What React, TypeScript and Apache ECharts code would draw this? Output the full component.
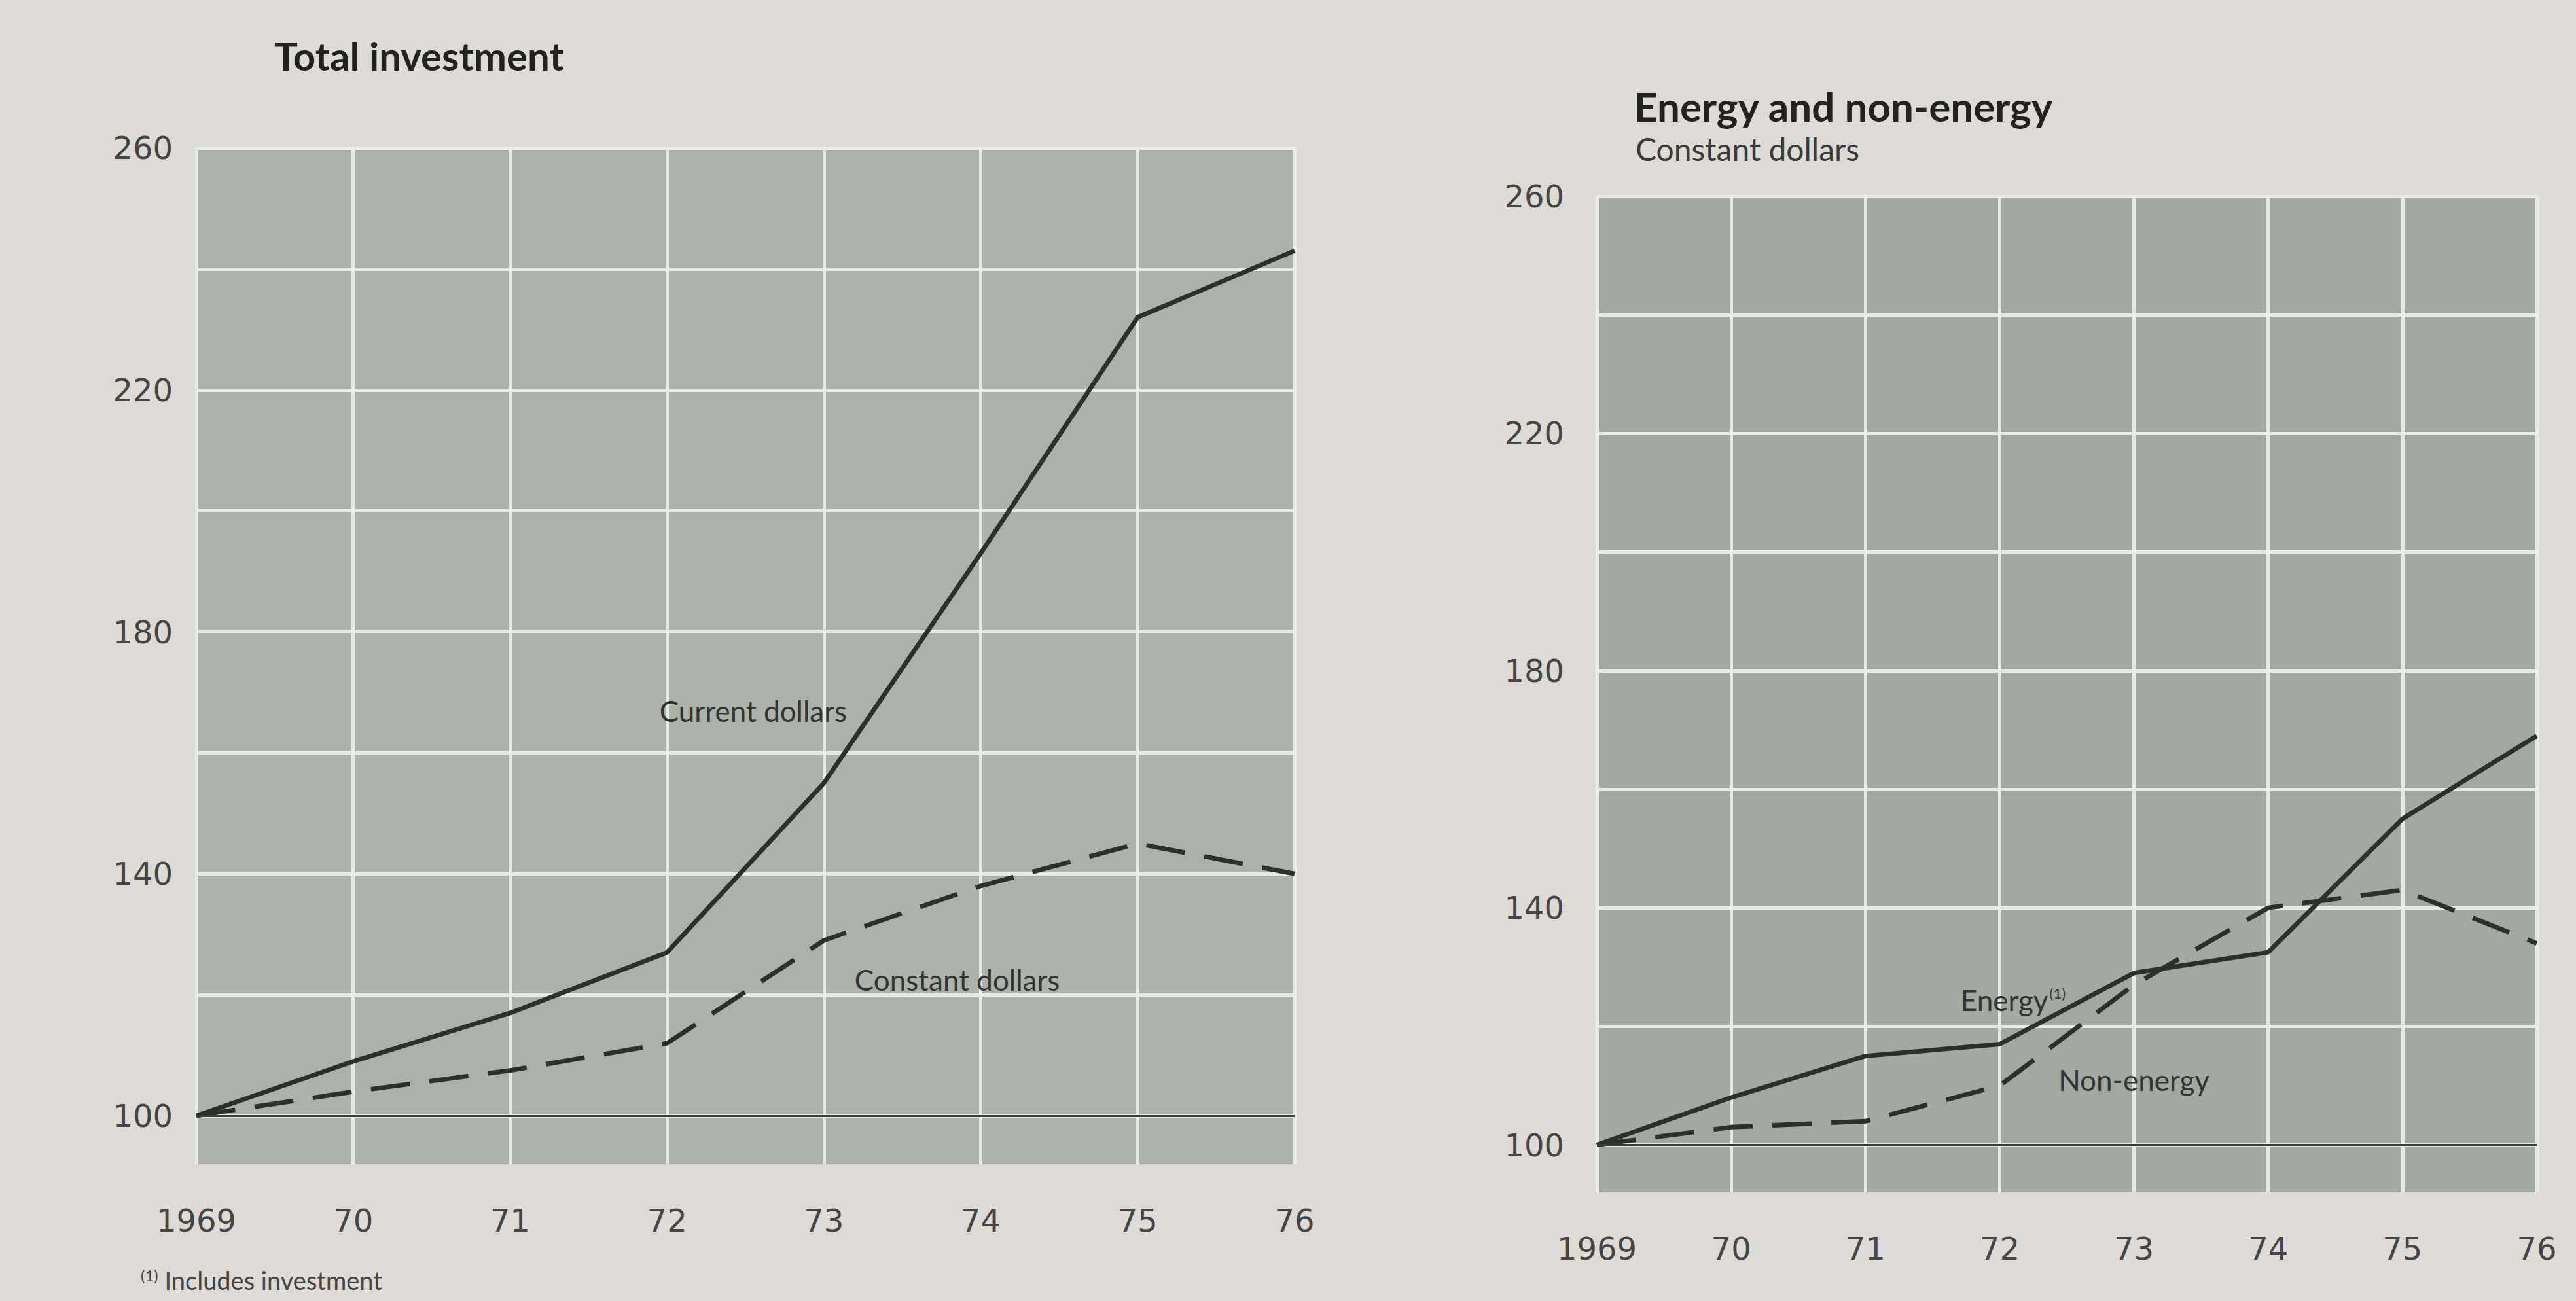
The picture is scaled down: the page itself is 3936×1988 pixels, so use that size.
import React, { useEffect, useRef } from "react";
import * as echarts from "echarts";

// ---- data (index, 1969 = 100) ----
const years = [1969, 1970, 1971, 1972, 1973, 1974, 1975, 1976];
const xTickLabels = ["1969", "70", "71", "72", "73", "74", "75", "76"];
const yTickLabels = [100, 140, 180, 220, 260];

// Total investment
const currentDollars = [100, 109, 117, 127, 155, 193, 232, 243];
const constantDollars = [100, 104, 107.5, 112, 129, 138, 145, 140];

// Energy and non-energy (constant dollars)
const energy = [100, 108, 115, 117, 129, 132.5, 155, 169];
const nonEnergy = [100, 103, 104, 110, 127, 140, 143, 134];

const baseLevel = 100;

// ---- styles ----
const PAPER = "#dedad6";
const INK = "#2c2f2c";
const WHITE = "rgba(236,239,233,0.92)";
const CLEAR = "rgba(0,0,0,0)";
const NUM_FONT = "DejaVu Sans";
const TEXT_FONT = "Lato";

const pairs = (vals: number[]) => years.map((y, i) => [y, vals[i]]);

function yAxisFor(gridIndex: number, margin: number) {
  return {
    type: "value",
    gridIndex,
    min: 92,
    max: 260,
    interval: 4,
    axisLine: { show: false },
    axisTick: { show: false },
    axisLabel: {
      margin,
      color: "#454545",
      fontFamily: NUM_FONT,
      fontSize: 48,
      formatter: (v: number) => (yTickLabels.indexOf(v) >= 0 ? String(v) : ""),
    },
    splitLine: {
      show: true,
      lineStyle: { width: 5, color: [CLEAR, CLEAR, WHITE, CLEAR, CLEAR] },
    },
  };
}

function xAxisFor(gridIndex: number) {
  return {
    type: "value",
    gridIndex,
    min: 1969,
    max: 1976,
    interval: 1,
    axisLine: { show: false },
    axisTick: { show: false },
    axisLabel: {
      margin: 62,
      color: "#454545",
      fontFamily: NUM_FONT,
      fontSize: 48,
      formatter: (v: number) => xTickLabels[years.indexOf(v)] ?? "",
    },
    splitLine: { show: true, lineStyle: { width: 5, color: WHITE } },
  };
}

function inlineLabel(coord: number[], text: string, extra: any = {}) {
  return {
    coord,
    symbol: "circle",
    symbolSize: 0,
    label: {
      show: true,
      position: "inside",
      formatter: text,
      color: "#333",
      fontFamily: TEXT_FONT,
      fontSize: 44,
      ...extra,
    },
  };
}

function baseLine() {
  return {
    silent: true,
    symbol: ["none", "none"],
    label: { show: false },
    lineStyle: { color: "#3a3d3a", width: 3, type: "solid" },
    data: [{ yAxis: baseLevel }],
  };
}

export default function App() {
  const ref = useRef<HTMLDivElement>(null);

  useEffect(() => {
    if (!ref.current) return;
    const chart = echarts.init(ref.current, null, { renderer: "svg" });

    const option: any = {
      animation: false,
      backgroundColor: PAPER,
      title: [
        {
          text: "Total investment",
          left: 414,
          top: 50,
          textStyle: { fontFamily: TEXT_FONT, fontWeight: "bold", fontSize: 60, color: "#222" },
        },
        {
          text: "Energy and non-energy",
          left: 2492,
          top: 126,
          textStyle: { fontFamily: TEXT_FONT, fontWeight: "bold", fontSize: 62, color: "#222" },
        },
        {
          text: "Constant dollars",
          left: 2494,
          top: 198,
          textStyle: { fontFamily: TEXT_FONT, fontWeight: "normal", fontSize: 48, color: "#3a3a3a" },
        },
      ],
      grid: [
        { left: 300, right: 1958, top: 226, bottom: 209, show: true, backgroundColor: "#acb2a9", borderWidth: 0 },
        { left: 2440, right: 60, top: 300, bottom: 166, show: true, backgroundColor: "#a1a9a0", borderWidth: 0 },
      ],
      xAxis: [xAxisFor(0), xAxisFor(1)],
      yAxis: [yAxisFor(0, 36), yAxisFor(1, 50)],
      graphic: [
        {
          type: "text",
          left: 215,
          top: 1936,
          style: {
            text: "{s|(1)} Includes investment",
            rich: {
              s: { fontSize: 24, fontFamily: TEXT_FONT, fill: "#444", padding: [0, 0, 16, 0] },
            },
            fontFamily: TEXT_FONT,
            fontSize: 38,
            fill: "#444",
          },
        },
      ],
      series: [
        {
          name: "Current dollars",
          type: "line",
          xAxisIndex: 0,
          yAxisIndex: 0,
          data: pairs(currentDollars),
          symbol: "none",
          z: 3,
          lineStyle: { color: INK, width: 7 },
          markLine: baseLine(),
          markPoint: { data: [inlineLabel([1972.55, 167], "Current dollars")] },
        },
        {
          name: "Constant dollars",
          type: "line",
          xAxisIndex: 0,
          yAxisIndex: 0,
          data: pairs(constantDollars),
          symbol: "none",
          z: 3,
          lineStyle: { color: INK, width: 7, type: [60, 30] },
          markPoint: { data: [inlineLabel([1973.85, 122.5], "Constant dollars")] },
        },
        {
          name: "Energy",
          type: "line",
          xAxisIndex: 1,
          yAxisIndex: 1,
          data: pairs(energy),
          symbol: "none",
          z: 3,
          lineStyle: { color: INK, width: 7 },
          markLine: baseLine(),
          markPoint: {
            data: [
              inlineLabel([1972.1, 124.5], "{a|Energy}{s|(1)}", {
                rich: {
                  a: { fontFamily: TEXT_FONT, fontSize: 44, color: "#333" },
                  s: { fontFamily: TEXT_FONT, fontSize: 22, color: "#333", padding: [0, 0, 20, 2] },
                },
              }),
            ],
          },
        },
        {
          name: "Non-energy",
          type: "line",
          xAxisIndex: 1,
          yAxisIndex: 1,
          data: pairs(nonEnergy),
          symbol: "none",
          z: 3,
          lineStyle: { color: INK, width: 7, type: [60, 30] },
          markPoint: { data: [inlineLabel([1973.0, 111], "Non-energy")] },
        },
      ],
    };

    chart.setOption(option);
    return () => chart.dispose();
  }, []);

  return (
    <div
      ref={ref}
      style={{ position: "fixed", left: 0, top: 0, width: 3936, height: 1988, background: PAPER }}
    />
  );
}
